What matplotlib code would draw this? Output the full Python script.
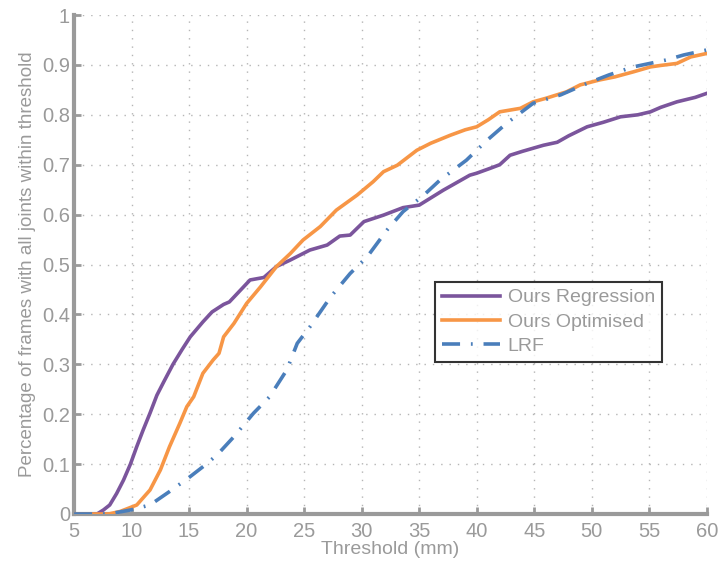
import matplotlib
matplotlib.use('Agg')
import matplotlib.pyplot as plt

plt.rcParams['font.family'] = ['Liberation Sans', 'DejaVu Sans']

# values (threshold in mm, fraction of frames)
reg_x = [5, 7, 7.55, 8.1, 8.7, 9.3, 9.9, 10.45, 11, 11.6, 12.2, 12.8, 13.6, 14.4,
         15.1, 16.2, 17, 18, 18.5, 20.3, 21.5, 22.6, 23.8, 25.5, 27, 28.1, 29,
         30.2, 31.9, 33.6, 35, 35.7, 37.1, 39.4, 40, 41.2, 42, 42.9, 44, 45.8, 47,
         48, 49.6, 51, 52.5, 54, 55.1, 56, 57.4, 59, 60]
reg_y = [0, 0, 0.008, 0.018, 0.041, 0.068, 0.10, 0.135, 0.168, 0.202, 0.238, 0.265,
         0.300, 0.330, 0.355, 0.385, 0.405, 0.420, 0.425, 0.469, 0.474, 0.496,
         0.509, 0.529, 0.539, 0.557, 0.559, 0.586, 0.599, 0.614, 0.619, 0.629,
         0.649, 0.679, 0.683, 0.693, 0.70, 0.719, 0.727, 0.739, 0.745, 0.758,
         0.776, 0.785, 0.796, 0.80, 0.806, 0.815, 0.826, 0.835, 0.843]

opt_x = [5, 8, 9, 10.45, 11.6, 12.5, 13.3, 14.2, 14.8, 15.4, 16.2, 17.1, 17.6, 18,
         18.9, 20, 21.2, 22.6, 23.8, 24.9, 26.4, 27.8, 29.6, 31, 31.9, 33.1, 34.8,
         36, 37.7, 39, 40, 41, 42, 43.8, 44.9, 46, 47.8, 49, 50.7, 52, 53.6, 55.1,
         56, 57.4, 58.6, 60]
opt_y = [0, 0, 0.005, 0.018, 0.048, 0.088, 0.135, 0.182, 0.215, 0.235, 0.282, 0.309,
         0.322, 0.355, 0.382, 0.422, 0.455, 0.496, 0.522, 0.549, 0.576, 0.609,
         0.639, 0.666, 0.686, 0.699, 0.729, 0.743, 0.759, 0.77, 0.776, 0.79,
         0.806, 0.813, 0.826, 0.833, 0.846, 0.86, 0.870, 0.876, 0.886, 0.896,
         0.899, 0.903, 0.916, 0.923]

lrf_x = [5, 8, 9.9, 11.6, 13.3, 15.1, 16.5, 17.5, 18.9, 20.6, 22, 23.5, 24.4, 25.5,
         27.3, 29, 30.5, 32.2, 33.6, 35.4, 36.8, 39.1, 40.9, 42.6, 44.9, 47.3,
         49.6, 51.5, 53.6, 56.5, 58, 60]
lrf_y = [0, 0, 0.008, 0.018, 0.045, 0.075, 0.10, 0.12, 0.155, 0.202, 0.235, 0.289,
         0.342, 0.375, 0.435, 0.482, 0.516, 0.569, 0.606, 0.639, 0.669, 0.709,
         0.749, 0.783, 0.823, 0.840, 0.863, 0.88, 0.896, 0.910, 0.92, 0.930]

x_ticks = list(range(5, 61, 5))
y_ticks = [0, 0.1, 0.2, 0.3, 0.4, 0.5, 0.6, 0.7, 0.8, 0.9, 1]
y_tick_labels = ['0', '0.1', '0.2', '0.3', '0.4', '0.5', '0.6', '0.7', '0.8', '0.9', '1']

gray = '#9a9a9a'

fig = plt.figure(figsize=(7.19, 5.67), dpi=100)
ax = fig.add_axes([0.103, 0.0935, 0.880, 0.880])

ax.plot(reg_x, reg_y, color='#7b559c', lw=2.6, label='Ours Regression', zorder=3)
ax.plot(opt_x, opt_y, color='#f79646', lw=2.6, label='Ours Optimised', zorder=3)
ax.plot(lrf_x, lrf_y, color='#4a7ebb', lw=2.6, linestyle=(0, (5, 3, 0.5, 3)),
        label='LRF', zorder=3)

ax.set_xlim(5, 60)
ax.set_ylim(0, 1)
ax.set_xticks(x_ticks)
ax.set_yticks(y_ticks)
ax.set_yticklabels(y_tick_labels)

ax.grid(True, color='#b5b5b5', linestyle=(0, (1, 5)), lw=1.0)
ax.set_axisbelow(True)

for s in ['top', 'right']:
    ax.spines[s].set_visible(False)
for s in ['left', 'bottom']:
    ax.spines[s].set_color(gray)
    ax.spines[s].set_linewidth(3)

ax.tick_params(direction='in', colors=gray, labelcolor=gray, labelsize=14.5,
               width=2, length=5)
ax.tick_params(axis='x', pad=6)
ax.tick_params(axis='y', pad=3)

ax.set_xlabel('Threshold (mm)', color=gray, fontsize=14, labelpad=0)
ax.set_ylabel('Percentage of frames with all joints within threshold',
              color=gray, fontsize=13.5, labelpad=4)

leg = ax.legend(loc='upper left', bbox_to_anchor=(0.570, 0.465), fontsize=14,
                handlelength=3.0, frameon=True, fancybox=False,
                borderpad=0.35, labelspacing=0.35, handletextpad=0.4,
                borderaxespad=0)
leg.get_frame().set_edgecolor('black')
leg.get_frame().set_linewidth(1.5)
for t in leg.get_texts():
    t.set_color(gray)

fig.savefig('out.png', dpi=100)
